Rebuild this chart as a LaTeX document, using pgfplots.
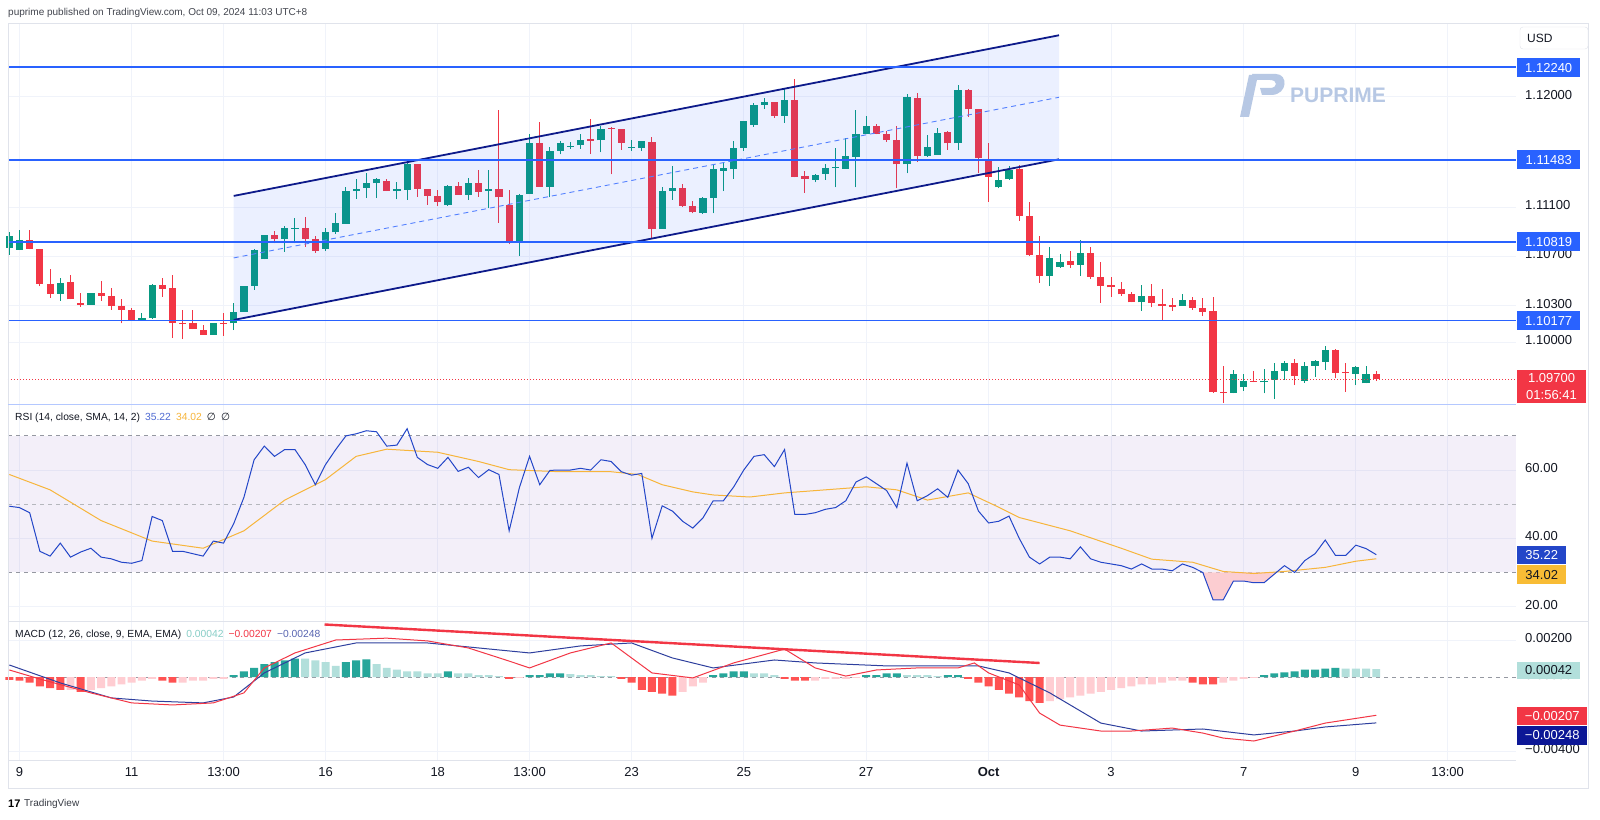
\documentclass[border=0pt]{standalone}
\usepackage{pgfplots}
\pgfplotsset{compat=1.18}
\usepackage{pgfplotstable}
\usepackage{fontspec}
\setmainfont{Liberation Sans}
\newfontfamily\dejavu{DejaVu Sans}
\definecolor{cup}{HTML}{089981}
\definecolor{cdn}{HTML}{F23645}
\definecolor{hblue}{HTML}{2962FF}
\definecolor{navy}{HTML}{0D1A8A}
\definecolor{gridc}{HTML}{F0F3FA}
\definecolor{txt}{HTML}{131722}
\definecolor{rsiblue}{HTML}{2346C8}
\definecolor{smay}{HTML}{F7B53B}
\definecolor{sigblue}{HTML}{2E3F9E}
\definecolor{hgreen}{HTML}{26A69A}
\definecolor{hlgreen}{HTML}{B2DFDB}
\definecolor{hred}{HTML}{FF5252}
\definecolor{hlred}{HTML}{FFCDD2}
\definecolor{bandc}{HTML}{7E57C2}
\definecolor{framec}{HTML}{E0E3EB}
\definecolor{dashc}{HTML}{9598A1}
\definecolor{wm}{HTML}{B7C8E4}

\pgfplotstableread{
i O H L C
0 1.10770 1.10901 1.10711 1.10866
1 1.10754 1.10915 1.10752 1.10833
5 1.10396 1.10524 1.10339 1.10483
8 1.10304 1.10402 1.10304 1.10402
13 1.10182 1.10236 1.10176 1.10200
14 1.10198 1.10475 1.10192 1.10464
20 1.10062 1.10157 1.10062 1.10157
22 1.10155 1.10323 1.10100 1.10249
23 1.10249 1.10456 1.10249 1.10456
24 1.10461 1.10757 1.10426 1.10749
25 1.10676 1.10874 1.10676 1.10874
27 1.10841 1.10947 1.10738 1.10931
28 1.10929 1.11010 1.10806 1.10933
31 1.10762 1.10928 1.10746 1.10896
32 1.10896 1.11050 1.10882 1.10974
33 1.10966 1.11267 1.10966 1.11232
34 1.11230 1.11327 1.11167 1.11251
35 1.11259 1.11379 1.11173 1.11295
36 1.11295 1.11338 1.11173 1.11330
38 1.11230 1.11305 1.11164 1.11246
39 1.11243 1.11479 1.11159 1.11452
43 1.11116 1.11278 1.11112 1.11270
45 1.11202 1.11336 1.11161 1.11300
47 1.11230 1.11403 1.11091 1.11246
50 1.10827 1.11208 1.10703 1.11197
51 1.11208 1.11696 1.11208 1.11625
53 1.11267 1.11588 1.11181 1.11558
54 1.11558 1.11639 1.11531 1.11620
55 1.11597 1.11629 1.11572 1.11602
56 1.11604 1.11694 1.11574 1.11647
58 1.11645 1.11761 1.11547 1.11739
61 1.11583 1.11647 1.11560 1.11591
62 1.11585 1.11639 1.11560 1.11637
64 1.10925 1.11261 1.10925 1.11232
65 1.11230 1.11436 1.11159 1.11254
68 1.11054 1.11180 1.11047 1.11175
69 1.11175 1.11444 1.11050 1.11409
70 1.11398 1.11460 1.11230 1.11416
71 1.11409 1.11637 1.11332 1.11585
72 1.11585 1.11800 1.11558 1.11800
73 1.11770 1.11946 1.11756 1.11936
74 1.11935 1.11992 1.11900 1.11954
76 1.11845 1.12068 1.11788 1.11973
79 1.11322 1.11370 1.11303 1.11365
80 1.11373 1.11454 1.11322 1.11422
81 1.11419 1.11585 1.11262 1.11424
82 1.11414 1.11661 1.11414 1.11517
83 1.11511 1.11889 1.11262 1.11694
84 1.11694 1.11843 1.11694 1.11761
88 1.11449 1.12020 1.11376 1.11995
90 1.11520 1.11688 1.11511 1.11588
91 1.11528 1.11743 1.11528 1.11707
93 1.11620 1.12095 1.11566 1.12055
97 1.11262 1.11430 1.11254 1.11322
98 1.11327 1.11436 1.11322 1.11403
102 1.10540 1.10774 1.10458 1.10687
103 1.10613 1.10719 1.10607 1.10654
105 1.10632 1.10833 1.10540 1.10725
111 1.10326 1.10467 1.10255 1.10380
115 1.10298 1.10393 1.10298 1.10345
120 1.09590 1.09775 1.09585 1.09742
121 1.09634 1.09742 1.09606 1.09687
123 1.09674 1.09780 1.09585 1.09687
124 1.09693 1.09829 1.09538 1.09766
125 1.09769 1.09848 1.09693 1.09829
127 1.09687 1.09840 1.09671 1.09807
128 1.09807 1.09856 1.09720 1.09848
129 1.09842 1.09970 1.09775 1.09937
132 1.09744 1.09807 1.09652 1.09797
133 1.09666 1.09807 1.09666 1.09744
}\upc

\pgfplotstableread{
i O H L C
2 1.10833 1.10915 1.10757 1.10760
3 1.10760 1.10760 1.10458 1.10475
4 1.10475 1.10595 1.10361 1.10396
6 1.10491 1.10546 1.10350 1.10350
7 1.10320 1.10399 1.10290 1.10304
9 1.10402 1.10502 1.10339 1.10377
10 1.10375 1.10442 1.10263 1.10298
11 1.10293 1.10350 1.10155 1.10263
12 1.10266 1.10277 1.10176 1.10182
15 1.10464 1.10521 1.10371 1.10434
16 1.10442 1.10548 1.10038 1.10157
17 1.10157 1.10261 1.10025 1.10155
18 1.10157 1.10263 1.10108 1.10108
19 1.10100 1.10141 1.10062 1.10062
21 1.10155 1.10236 1.10054 1.10154
26 1.10874 1.10904 1.10806 1.10841
29 1.10931 1.11020 1.10779 1.10841
30 1.10839 1.10866 1.10730 1.10744
37 1.11316 1.11327 1.11230 1.11230
40 1.11452 1.11452 1.11186 1.11251
41 1.11251 1.11251 1.11118 1.11194
42 1.11194 1.11240 1.11112 1.11145
44 1.11270 1.11308 1.11202 1.11202
46 1.11300 1.11403 1.11186 1.11224
48 1.11246 1.11892 1.10974 1.11181
49 1.11116 1.11240 1.10800 1.10827
52 1.11625 1.11792 1.11267 1.11267
57 1.11653 1.11821 1.11533 1.11642
59 1.11742 1.11755 1.11368 1.11737
60 1.11739 1.11739 1.11566 1.11625
63 1.11634 1.11674 1.10844 1.10925
66 1.11259 1.11289 1.11104 1.11110
67 1.11107 1.11153 1.11050 1.11057
75 1.11954 1.11960 1.11829 1.11845
77 1.11973 1.12142 1.11342 1.11344
78 1.11354 1.11393 1.11218 1.11330
85 1.11761 1.11775 1.11694 1.11694
86 1.11694 1.11723 1.11634 1.11647
87 1.11647 1.11761 1.11254 1.11449
89 1.11989 1.12028 1.11471 1.11520
92 1.11713 1.11720 1.11566 1.11620
94 1.12055 1.12060 1.11837 1.11897
95 1.11897 1.11900 1.11376 1.11498
96 1.11485 1.11620 1.11145 1.11349
99 1.11409 1.11444 1.10988 1.11029
100 1.11029 1.11145 1.10703 1.10711
101 1.10711 1.10868 1.10485 1.10540
104 1.10660 1.10744 1.10607 1.10632
106 1.10725 1.10774 1.10515 1.10532
107 1.10535 1.10654 1.10323 1.10461
108 1.10464 1.10534 1.10371 1.10448
109 1.10434 1.10489 1.10377 1.10391
110 1.10391 1.10407 1.10326 1.10326
112 1.10380 1.10475 1.10285 1.10320
113 1.10314 1.10434 1.10182 1.10298
114 1.10306 1.10363 1.10255 1.10290
116 1.10345 1.10366 1.10263 1.10282
117 1.10277 1.10358 1.10214 1.10249
118 1.10255 1.10371 1.09590 1.09598
119 1.09595 1.09807 1.09508 1.09590
122 1.09687 1.09766 1.09674 1.09677
126 1.09829 1.09862 1.09652 1.09728
130 1.09937 1.09946 1.09707 1.09753
131 1.09756 1.09829 1.09598 1.09750
134 1.09742 1.09766 1.09683 1.09700
}\dnc

\pgfplotstableread{
i r
0 49.4
1 49
2 47.5
3 36.2
4 34.8
5 38.6
6 34.5
7 36
8 37.1
9 34.5
10 34
11 33
12 32.7
13 33.5
14 46.4
15 45.2
16 36.2
17 36.2
18 35.5
19 34.8
20 39.2
21 38.6
22 44.3
23 52
24 63
25 67
26 64
27 66
28 66
29 61.6
30 55.7
31 61.6
32 66
33 70
34 70.6
35 71.5
36 71.2
37 67
38 67.3
39 72.1
40 63.7
41 61.6
42 60.5
43 63.7
44 59.6
45 60.8
46 57.8
47 60.1
48 58.7
49 42.2
50 54.8
51 64
52 55.7
53 59.9
54 60
55 60
56 60.5
57 60
58 63
59 62.5
60 59.5
61 58.5
62 59
63 40
64 49.5
65 48
66 45
67 43
68 46
69 51
70 51
71 55
72 60
73 64
74 64.5
75 61
76 66
77 47
78 47
79 47.5
80 48.5
81 49
82 51
83 56.5
84 58
85 56
86 54
87 49
88 62
89 51
90 52.5
91 54.5
92 52
93 60
94 56
95 48
96 44.5
97 45
98 46.5
99 40
100 34.5
101 32.5
102 34.5
103 34.5
104 34
105 37.5
106 34
107 33
108 32.5
109 32
110 31
111 32.5
112 31
113 31
114 30.5
115 32.5
116 31.5
117 30
118 22
119 22
120 27.5
121 27.5
122 27
123 27
124 29.5
125 32
126 30
127 33.5
128 35.5
129 39.5
130 35
131 35
132 38
133 37
134 35.22
}\rsi

\pgfplotsset{
  pane/.style={
    scale only axis, width=1508pt, xmin=-0.127, xmax=147.7,
    clip=false, scaled ticks=false,
    axis line style={draw=none},
    major tick length=0pt,
    xtick={1,12,21,31,42,51,61,72,84,96,108,121,132,141},
    xmajorgrids, ymajorgrids,
    major grid style={draw=gridc, line width=0.9pt},
    yticklabel pos=right,
    typeset ticklabels with strut,
    yticklabel style={anchor=west, inner sep=0pt, xshift=9pt, font=\fontsize{13}{13}\selectfont, text=txt},
    xticklabel style={font=\fontsize{13}{13}\selectfont, text=txt},
  },
  wick/.style={draw=none, error bars/.cd, y dir=plus, y explicit, error mark=none,
    error bar style={draw=#1, line width=1pt}},
  body/.style={draw=none, error bars/.cd, y dir=plus, y explicit, error mark=none,
    error bar style={draw=#1, line width=7.2pt}},
}

\begin{document}
\begin{tikzpicture}[x=1pt,y=1pt]
\fill[white] (0,0) rectangle (1600,819);

\begin{axis}[pane, at={(8pt,415pt)}, anchor=south west, height=381pt,
  ymin=1.094976, ymax=1.126,
  ytick={1.1,1.103,1.107,1.111,1.12},
  yticklabels={1.10000,1.10300,1.10700,1.11100,1.12000},
  xticklabels={}]
  \addplot[wick=cup] table[x=i, y=L, y error plus expr=\thisrow{H}-\thisrow{L}] {\upc};
  \addplot[wick=cdn] table[x=i, y=L, y error plus expr=\thisrow{H}-\thisrow{L}] {\dnc};
  \addplot[body=cup] table[x=i, y=O, y error plus expr={max(\thisrow{C}-\thisrow{O},0.00002)}] {\upc};
  \addplot[body=cdn] table[x=i, y=C, y error plus expr={max(\thisrow{O}-\thisrow{C},0.00002)}] {\dnc};
  \addplot[draw=none, fill=hblue, fill opacity=0.09] coordinates {(22,1.10182) (102.9,1.11490) (102.9,1.12500) (22,1.11192)};
  \addplot[navy, line width=1.8pt] coordinates {(22,1.11192) (102.9,1.12500)};
  \addplot[navy, line width=1.8pt] coordinates {(22,1.10182) (102.9,1.11490)};
  \addplot[hblue!80, line width=0.9pt, dash pattern=on 5pt off 4pt] coordinates {(22,1.10687) (102.9,1.11995)};
  \addplot[hblue, line width=1.6pt] coordinates {(-0.127,1.12240) (147.7,1.12240)};
  \addplot[hblue, line width=1.6pt] coordinates {(-0.127,1.11483) (147.7,1.11483)};
  \addplot[hblue, line width=1.6pt] coordinates {(-0.127,1.10819) (147.7,1.10819)};
  \addplot[hblue, line width=1.6pt] coordinates {(-0.127,1.10177) (147.7,1.10177)};
  \addplot[cdn, line width=0.7pt, dash pattern=on 1pt off 2pt] coordinates {(-0.127,1.09700) (147.7,1.09700)};
\end{axis}

\begin{axis}[pane, at={(8pt,198pt)}, anchor=south west, height=217pt,
  ymin=15.8, ymax=79.33,
  ytick={20,40,60}, yticklabels={20.00,40.00,60.00},
  xticklabels={}]
  \addplot[draw=none, fill=bandc, fill opacity=0.09] coordinates {(-0.127,30) (147.7,30) (147.7,70) (-0.127,70)};
  \addplot[dashc, line width=0.8pt, dash pattern=on 4pt off 4pt] coordinates {(-0.127,70) (147.7,70)};
  \addplot[dashc!70, line width=0.8pt, dash pattern=on 4pt off 4pt] coordinates {(-0.127,50) (147.7,50)};
  \addplot[dashc, line width=0.8pt, dash pattern=on 4pt off 4pt] coordinates {(-0.127,30) (147.7,30)};
  \addplot[draw=none, fill=cdn!25] coordinates {(117,30) (118,22) (119,22) (120,27.5) (121,27.5) (122,27) (123,27) (124,29.5) (124.2,30)};
  \addplot[smay, line width=1pt] coordinates {
    (0,58.7) (4,54.2) (9,45.2) (14,39.2) (19,37.1) (23,42.2) (27,51.2) (31,57.2) (34,64.0)
    (37,66.1) (42,65.2) (46,62.5) (49,60.1) (54,59.5) (59,59.5) (61.6,58.7) (64,55.7) (67,53.6)
    (69,52.7) (72.6,52.1) (76,53.3) (80,54.2) (84,55.1) (87,54.2) (90,51.2) (94,53.3) (97,49.1)
    (99,46.1) (104,42.2) (109,37.1) (112,33.9) (116,33.0) (119,30.3) (122,29.7) (125,30.3)
    (129,31.5) (132,33.3) (134,34.02)};
  \addplot[rsiblue, line width=1pt] table[x=i, y=r] {\rsi};
\end{axis}

\begin{axis}[pane, at={(8pt,59pt)}, anchor=south west, height=139pt,
  ymin=-0.004486, ymax=0.003027,
  ytick={-0.004,0.002}, yticklabels={−0.00400,0.00200},
  extra y ticks={0}, extra y tick labels={0.00000}, extra y tick style={grid=none},
  xticklabels={9,11,13:00,16,18,13:00,23,25,27,\textbf{Oct},3,7,9,13:00},
  xticklabel style={yshift=-4pt}]
  \addplot[dashc, line width=0.8pt, dash pattern=on 4pt off 4pt] coordinates {(-0.127,0) (147.7,0)};
  \addplot[ybar, bar width=0.78, bar shift=0pt, fill=hred, draw=none] coordinates {
    (0,-0.00015) (1,-0.0002) (2,-0.0003) (3,-0.0005) (4,-0.0006) (5,-0.0007) (7,-0.0008)
    (15,-0.0002) (16,-0.0003) (49,-0.0001) (60,-0.0001) (61,-0.0003) (62,-0.0007) (63,-0.0008)
    (64,-0.0009) (65,-0.001) (76,-0.0001) (77,-0.0002) (78,-0.0002) (94,-0.0001) (95,-0.0003)
    (96,-0.0005) (97,-0.0007) (98,-0.0009) (99,-0.0011) (100,-0.0013) (101,-0.0014)
    (116,-0.0003) (117,-0.0004) (118,-0.0004)};
  \addplot[ybar, bar width=0.78, bar shift=0pt, fill=hlred, draw=none] coordinates {
    (6,-0.0007) (8,-0.0007) (9,-0.0006) (10,-0.0005) (11,-0.0004) (12,-0.0003) (13,-0.0002)
    (14,-0.0001) (17,-0.0003) (18,-0.0002) (19,-0.0002) (20,-0.0001) (21,-0.0001) (50,-0.00005)
    (66,-0.0008) (67,-0.0005) (68,-0.0003) (79,-0.0002) (80,-0.0001) (81,-0.0001) (82,-0.0001)
    (83,-0.00005) (102,-0.0013) (103,-0.0012) (104,-0.0011) (105,-0.001) (106,-0.0009)
    (107,-0.0008) (108,-0.0007) (109,-0.0006) (110,-0.0005) (111,-0.0004) (112,-0.0004)
    (113,-0.0003) (114,-0.0002) (115,-0.0002) (119,-0.0003) (120,-0.0002) (121,-0.0001) (122,-0.00005)};
  \addplot[ybar, bar width=0.78, bar shift=0pt, fill=hgreen, draw=none] coordinates {
    (22,0.0001) (23,0.0003) (24,0.0005) (25,0.0007) (26,0.0008) (27,0.0009) (28,0.001)
    (33,0.0008) (34,0.0009) (35,0.00095) (43,0.0003) (51,0.0001) (52,0.0001) (53,0.0002) (54,0.0002)
    (69,0.0001) (70,0.0002) (71,0.0003) (72,0.0003) (84,0.0001) (85,0.0001) (86,0.0002) (87,0.0002)
    (92,0.0001) (93,0.0001) (123,0.0001) (124,0.0002) (125,0.00025) (126,0.0003) (127,0.0004)
    (128,0.0004) (129,0.00045) (130,0.0005)};
  \addplot[ybar, bar width=0.78, bar shift=0pt, fill=hlgreen, draw=none] coordinates {
    (29,0.001) (30,0.0009) (31,0.0008) (32,0.0006) (36,0.0007) (37,0.0005) (38,0.0004) (39,0.0003)
    (40,0.0003) (41,0.0002) (42,0.0002) (44,0.0002) (45,0.0002) (46,0.0001) (47,0.0001) (48,0.00005)
    (55,0.00015) (56,0.0001) (57,0.0001) (58,0.00005) (59,0.00005) (73,0.0002) (74,0.0002) (75,0.0001)
    (88,0.0001) (89,0.0001) (90,0.0001) (91,0.00005) (131,0.00045) (132,0.00045) (133,0.00045) (134,0.00042)};
  \addplot[sigblue, line width=1pt] coordinates {
    (0,0.00065) (5,-0.00032) (10,-0.00113) (14,-0.0013) (19,-0.0014) (22,-0.00108) (25,0.00022)
    (29,0.0013) (34,0.00184) (41,0.00184) (46,0.00157) (51,0.0013) (56,0.00168) (61,0.00184)
    (65,0.00103) (69,0.00049) (75,0.00092) (79,0.00076) (86,0.0006) (92,0.0006) (95,0.0006)
    (98,0.00022) (102,-0.00086) (107,-0.00249) (111,-0.00292) (117,-0.00281) (122,-0.00313)
    (126,-0.00292) (129,-0.0027) (134,-0.00248)};
  \addplot[cdn, line width=1pt] coordinates {
    (0,0.00038) (3,-0.00011) (8,-0.00086) (12,-0.0014) (16,-0.00151) (20,-0.0014) (23,-0.00086)
    (25,0.00049) (28,0.0013) (32,0.002) (37,0.0021) (41,0.00195) (45,0.00157) (49,0.00086)
    (51,0.00049) (55,0.0013) (59,0.00184) (63,0.00022) (67,-0.00005) (71,0.00076) (76,0.00151)
    (79,0.00049) (82,0.00005) (85,0.00038) (89,0.00049) (93,0.00049) (94.6,0.00076) (96,0.00022)
    (99,-0.00043) (101,-0.00195) (103,-0.0026) (107,-0.00292) (110,-0.00292) (114,-0.00276)
    (117,-0.00303) (119,-0.0033) (122,-0.00346) (126,-0.00292) (129,-0.00249) (134,-0.00207)};
  \addplot[cdn, line width=2.4pt] coordinates {(30.9,0.002838) (101,0.000757)};
\end{axis}

\draw[framec, line width=0.8pt] (8,31) rectangle (1588,796);
\draw[framec, line width=0.8pt] (8,198) -- (1588,198);
\draw[hblue!35, line width=0.9pt] (8,415) -- (1516,415);
\draw[framec, line width=0.8pt] (8,59) -- (1516,59);

\node[anchor=west, inner sep=0pt, text=txt!80, font=\fontsize{10}{10}\selectfont] at (8,806)
  {puprime published on TradingView.com, Oct 09, 2024 11:03 UTC+8};
\node[anchor=west, inner sep=0pt, font=\fontsize{10.3}{10.3}\selectfont, text=txt] at (15,401)
  {RSI (14, close, SMA, 14, 2)\enspace\textcolor{rsiblue!80!white}{35.22}\enspace\textcolor{smay}{34.02}\enspace{\dejavu ∅}\enspace{\dejavu ∅}};
\node[anchor=west, inner sep=0pt, font=\fontsize{10.3}{10.3}\selectfont, text=txt] at (15,184)
  {MACD (12, 26, close, 9, EMA, EMA)\enspace\textcolor{hgreen!55!white}{0.00042}\enspace\textcolor{cdn}{−0.00207}\enspace\textcolor{sigblue!80!white}{−0.00248}};
\node[anchor=west, inner sep=0pt, font=\bfseries\fontsize{11}{11}\selectfont] at (8,15) {17};
\node[anchor=west, inner sep=0pt, font=\fontsize{10}{10}\selectfont, text=txt!85] at (24,15) {TradingView};

\fill[wm] (1240,702) -- (1249,702) -- (1258,744) -- (1249,744) -- cycle;
\fill[wm] (1252,745) -- (1276,745) .. controls (1288,745) and (1288,725) .. (1272,724) -- (1262,724) -- (1260,731) -- (1270,731) .. controls (1278,731) and (1278,739) .. (1270,739) -- (1254,739) -- cycle;
\node[anchor=west, inner sep=0pt, text=wm, font=\bfseries\fontsize{21}{21}\selectfont] at (1290,724) {PUPRIME};

\draw[framec, rounded corners=3pt, fill=white] (1520,770) rectangle (1588,792);
\node[anchor=west, inner sep=0pt, font=\fontsize{12}{12}\selectfont, text=txt] at (1527,781) {USD};

\foreach \yy/\tt in {751.3/1.12240, 659/1.11483, 577.3/1.10819, 498/1.10177}{
  \node[fill=hblue, text=white, minimum width=63pt, minimum height=19pt, inner sep=0pt, anchor=west,
    font=\fontsize{13}{13}\selectfont] at (1517,\yy) {\tt};
}
\fill[cdn] (1517,416) rectangle (1586,449);
\node[text=white, inner sep=0pt, font=\fontsize{13}{13}\selectfont] at (1551.5,441) {1.09700};
\node[text=white, inner sep=0pt, font=\fontsize{13}{13}\selectfont] at (1551.5,424) {01:56:41};

\node[fill=rsiblue, text=white, minimum width=49pt, minimum height=18.6pt, inner sep=0pt, anchor=west,
  font=\fontsize{13}{13}\selectfont] at (1517,264) {35.22};
\node[fill=smay!90!yellow, text=txt, minimum width=49pt, minimum height=19.3pt, inner sep=0pt, anchor=west,
  font=\fontsize{13}{13}\selectfont] at (1517,244.3) {34.02};

\node[fill=hlgreen, text=txt, minimum width=63pt, minimum height=17.6pt, inner sep=0pt, anchor=west,
  font=\fontsize{13}{13}\selectfont] at (1517,148.5) {0.00042};
\node[fill=cdn, text=white, minimum width=70pt, minimum height=18.3pt, inner sep=0pt, anchor=west,
  font=\fontsize{13}{13}\selectfont] at (1517,103.2) {−0.00207};
\node[fill=navy!90!blue, text=white, minimum width=70pt, minimum height=19.3pt, inner sep=0pt, anchor=west,
  font=\fontsize{13}{13}\selectfont] at (1517,83.7) {−0.00248};

\pgfresetboundingbox
\path[use as bounding box] (0,0) rectangle (1600,819);
\end{tikzpicture}
\end{document}
